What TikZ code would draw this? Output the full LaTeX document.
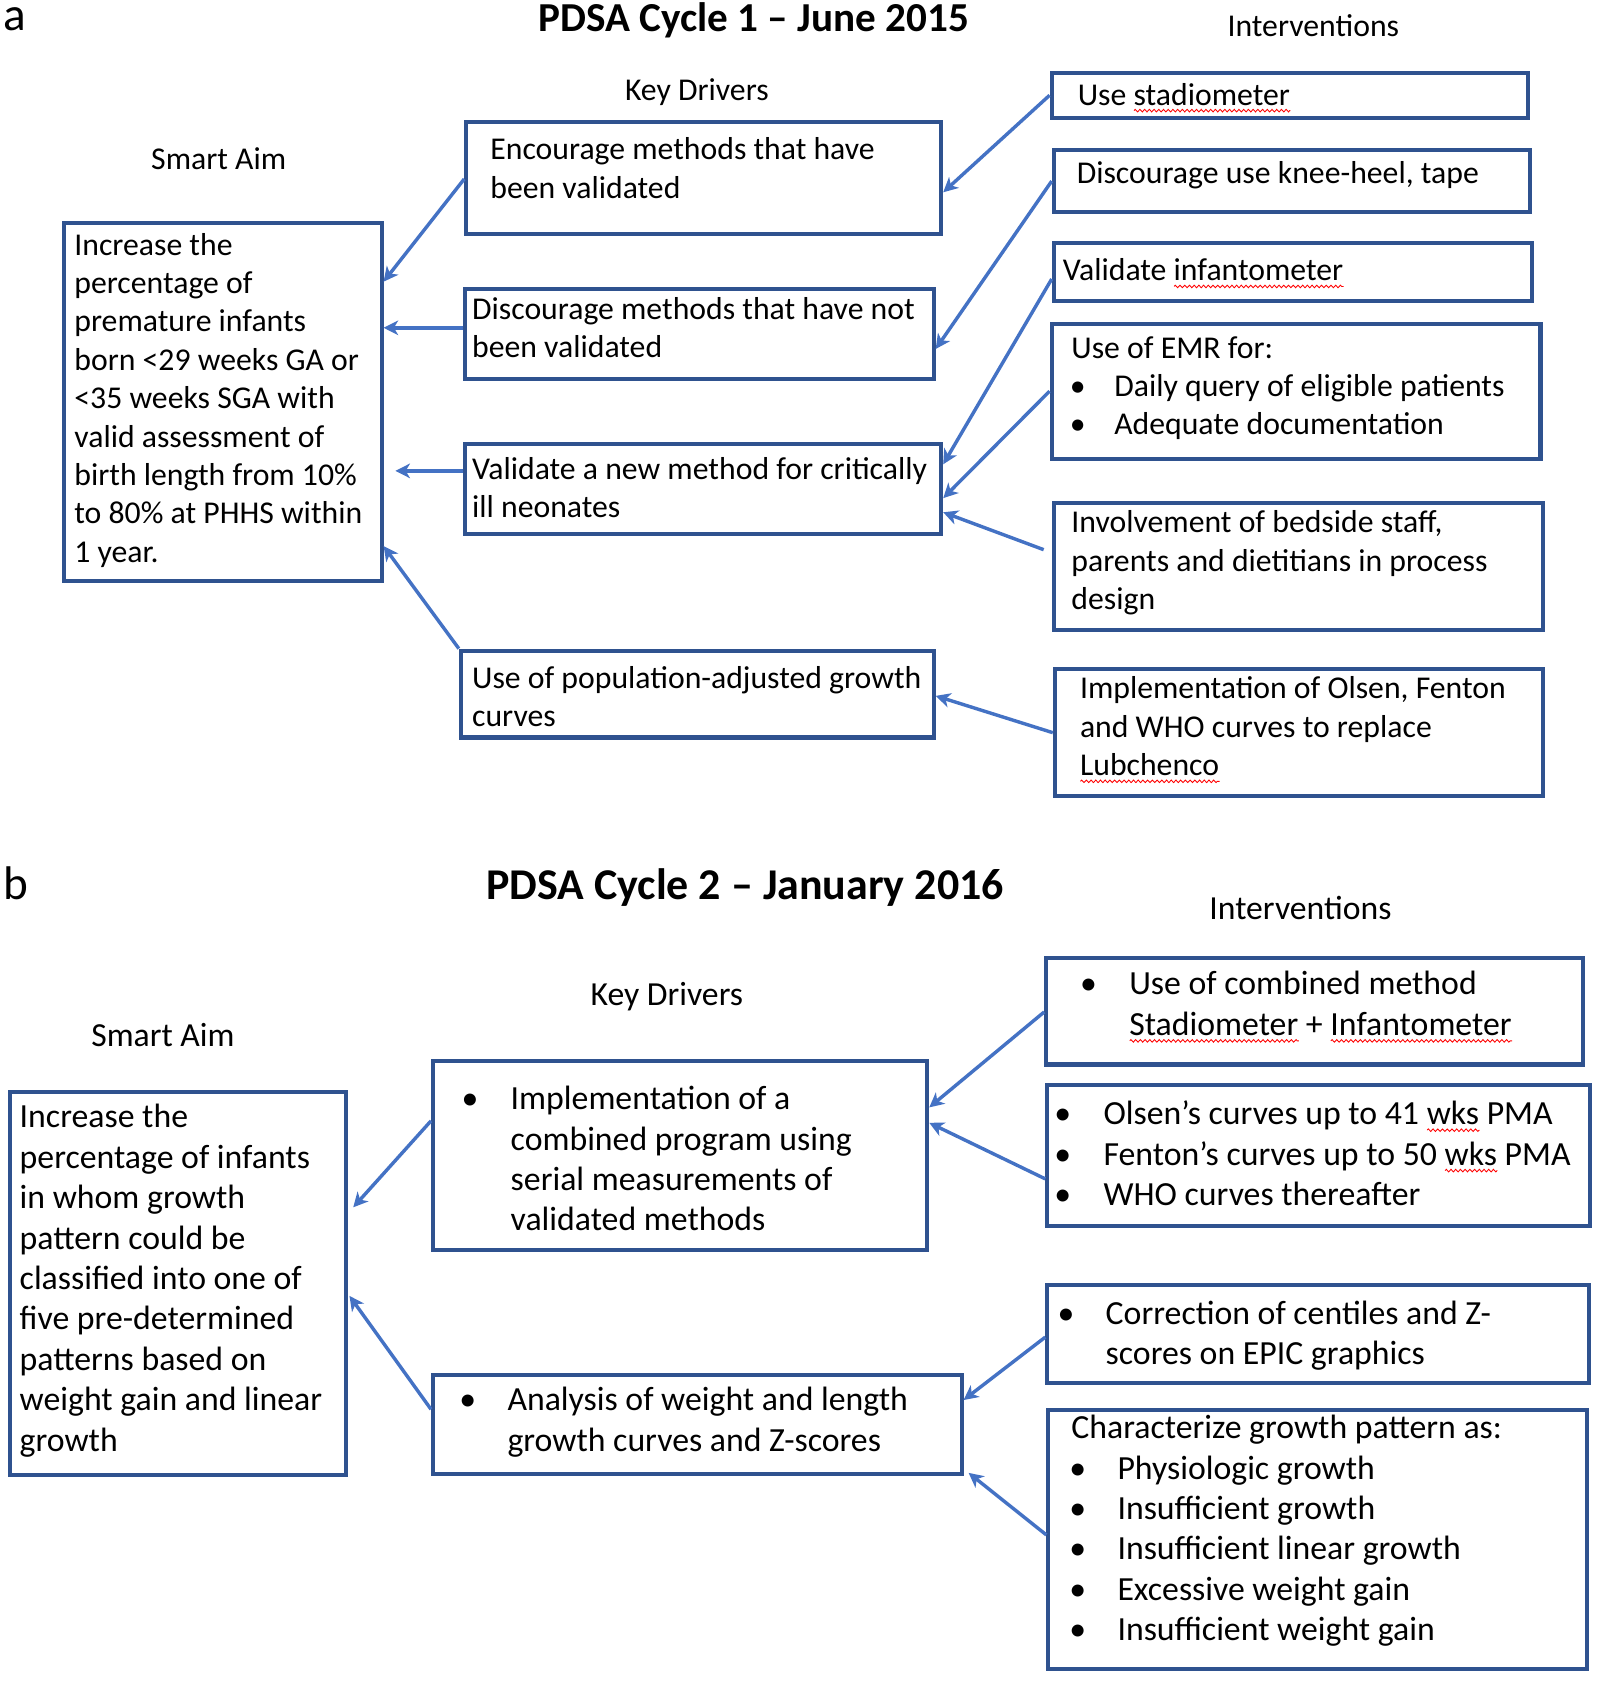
\documentclass[tikz,border=0pt]{standalone}
\usepackage{fontspec}
\setmainfont{Carlito}
\usetikzlibrary{arrows.meta,calc,decorations.pathmorphing}
\definecolor{boxblue}{HTML}{2F528F}
\definecolor{arrblue}{HTML}{4472C4}
\newsavebox\spellbox
\newcommand\spellerr[1]{\sbox\spellbox{#1}\rlap{\tikz[baseline=0pt]\draw[red,line width=0.4pt,decorate,decoration={zigzag,amplitude=0.6pt,segment length=2.2pt}] (0pt,-2.6pt) -- (\the\wd\spellbox,-2.6pt);}\usebox\spellbox}
\newcommand\mlines[1]{\vtop{\halign{##\hfil\cr#1\crcr}}}
\newcommand\bul[1]{\llap{\makebox[0pt]{\textbullet}\hskip#1}}
\newcommand\boxat[5]{\node[bx,minimum width={(#4-#2)*0.5pt},minimum height={(#5-#3)*0.5pt}] (#1) at (#2,#3) {};}
\tikzset{
  bx/.style={draw=boxblue, line width=1.9pt, rectangle, inner sep=0pt, anchor=north west},
  txt/.style={inner sep=0pt, anchor=base west},
  fa/.style={font=\fontsize{14.8pt}{17.9pt}\selectfont},
  fb/.style={font=\fontsize{15.75pt}{18.85pt}\selectfont},
  hda/.style={inner sep=0pt, anchor=base, font=\fontsize{14.8pt}{18pt}\selectfont},
  hdb/.style={inner sep=0pt, anchor=base, font=\fontsize{15.7pt}{19pt}\selectfont},
  ttla/.style={inner sep=0pt, anchor=base, font=\fontsize{19.2pt}{23pt}\selectfont\bfseries},
  ttlb/.style={inner sep=0pt, anchor=base, font=\fontsize{20.5pt}{24pt}\selectfont\bfseries},
  lbl/.style={inner sep=0pt, anchor=base west, text height=10.5pt, font=\fontsize{22pt}{26pt}\selectfont},
  arr/.style={draw=arrblue, line width=1.6pt, -{Stealth[length=6.8pt,width=6.8pt,inset=2pt]}},
}
\begin{document}
\begin{tikzpicture}[x=0.5pt,y=-0.5pt]
\useasboundingbox (0,0) rectangle (1492,1568);
% ---------------- panel a ----------------
\node[lbl] (la) at (3,28.5) {a};
\node[ttla] (ta) at (703,29.5) {PDSA Cycle 1 – June 2015};
\node[hda] (hia) at (1225,34) {Interventions};
\node[hda] (hka) at (650,94) {Key Drivers};
\node[hda] (hsa) at (204,158) {Smart Aim};

\boxat{aim}{58}{206}{354}{540}
\boxat{kd1}{433}{112}{876}{216}
\boxat{kd2}{432}{268}{869}{352}
\boxat{kd3}{432}{412}{876}{496}
\boxat{kd4}{428}{605}{869}{686}
\boxat{i1}{979}{66}{1423}{108}
\boxat{i2}{981}{138}{1425}{196}
\boxat{i3}{981}{225}{1427}{279}
\boxat{i4}{979}{300}{1435}{426}
\boxat{i5}{981}{467}{1437}{586}
\boxat{i6}{982}{622}{1437}{741}

\node[txt,fa] (aimt) at (69,238) {\mlines{Increase the\cr percentage of\cr premature infants\cr born <29 weeks GA or\cr <35 weeks SGA with\cr valid assessment of\cr birth length from 10\%\cr to 80\% at PHHS within\cr 1 year.}};
\node[txt,fa] (kd1t) at (457,149) {\mlines{Encourage methods that have\cr been validated}};
\node[txt,fa] (kd2t) at (440,298) {\mlines{Discourage methods that have not\cr been validated}};
\node[txt,fa] (kd3t) at (440,447) {\mlines{Validate a new method for critically\cr ill neonates}};
\node[txt,fa] (kd4t) at (440,642) {\mlines{Use of population-adjusted growth\cr curves}};
\node[txt,fa] (i1t) at (1005,98) {Use \spellerr{stadiometer}};
\node[txt,fa] (i2t) at (1004,171) {Discourage use knee-heel, tape};
\node[txt,fa] (i3t) at (991,262) {Validate \spellerr{infantometer}};
\node[txt,fa] (i4t) at (999,334) {\mlines{Use of EMR for:\cr \hskip20pt\bul{17pt}Daily query of eligible patients\cr \hskip20pt\bul{17pt}Adequate documentation}};
\node[txt,fa] (i5t) at (999,497) {\mlines{Involvement of bedside staff,\cr parents and dietitians in process\cr design}};
\node[txt,fa] (i6t) at (1007,652) {\mlines{Implementation of Olsen, Fenton\cr and WHO curves to replace\cr \spellerr{Lubchenco}}};

\draw[arr] ($(kd1.north west)!0.51!(kd1.south west)$) -- ($(aim.north east)!0.168!(aim.south east)$);
\draw[arr] ($(kd2.north west)!0.43!(kd2.south west)$) coordinate (s2) -- (aim.east |- s2);
\draw[arr, shorten >=5.5pt] ($(kd3.north west)!0.31!(kd3.south west)$) coordinate (s3) -- (aim.east |- s3);
\draw[arr] (kd4.north west) -- ($(aim.north east)!0.898!(aim.south east)$);
\draw[arr] (i1.west) -- ($(kd1.north east)!0.625!(kd1.south east)$);
\draw[arr] (i2.west) -- ($(kd2.north east)!0.655!(kd2.south east)$);
\draw[arr] ($(i3.north west)!0.61!(i3.south west)$) -- ($(kd3.north east)!0.24!(kd3.south east)$);
\draw[arr] (i4.west) -- ($(kd3.north east)!0.6!(kd3.south east)$);
\draw[arr, shorten <=4pt] ($(i5.north west)!0.395!(i5.south west)$) -- ($(kd3.north east)!0.75!(kd3.south east)$);
\draw[arr] (i6.west) -- ($(kd4.north east)!0.52!(kd4.south east)$);

% ---------------- panel b ----------------
\node[lbl] (lb) at (3,839) {b};
\node[ttlb] (tb) at (695,839) {PDSA Cycle 2 – January 2016};
\node[hdb] (hib) at (1213,858) {Interventions};
\node[hdb] (hkb) at (622,938) {Key Drivers};
\node[hdb] (hsb) at (152,976) {Smart Aim};

\boxat{baim}{7}{1017}{321}{1374}
\boxat{bkd1}{402}{988}{863}{1164}
\boxat{bkd2}{402}{1281}{895}{1373}
\boxat{bi1}{974}{892}{1475}{991}
\boxat{bi2}{975}{1010}{1481}{1142}
\boxat{bi3}{975}{1197}{1480}{1288}
\boxat{bi4}{976}{1313}{1478}{1555}

\node[txt,fb] (baimt) at (18,1052) {\mlines{Increase the\cr percentage of infants\cr in whom growth\cr pattern could be\cr classified into one of\cr five pre-determined\cr patterns based on\cr weight gain and linear\cr growth}};
\node[txt,fb] (bkd1t) at (476,1035) {\mlines{\bul{19pt}Implementation of a\cr combined program using\cr serial measurements of\cr validated methods}};
\node[txt,fb] (bkd2t) at (473,1316) {\mlines{\bul{18.5pt}Analysis of weight and length\cr growth curves and Z-scores}};
\node[txt,fb] (bi1t) at (1053,928) {\mlines{\bul{19pt}Use of combined method\cr \spellerr{Stadiometer} + \spellerr{Infantometer}}};
\node[txt,fb] (bi2t) at (1029,1049) {\mlines{\bul{19pt}Olsen’s curves up to 41 \spellerr{wks} PMA\cr \bul{19pt}Fenton’s curves up to 50 \spellerr{wks} PMA\cr \bul{19pt}WHO curves thereafter}};
\node[txt,fb] (bi3t) at (1031,1235) {\mlines{\bul{18.5pt}Correction of centiles and Z-\cr scores on EPIC graphics}};
\node[txt,fb] (bi4t) at (999,1342) {\mlines{Characterize growth pattern as:\cr \hskip21.5pt\bul{18.5pt}Physiologic growth\cr \hskip21.5pt\bul{18.5pt}Insufficient growth\cr \hskip21.5pt\bul{18.5pt}Insufficient linear growth\cr \hskip21.5pt\bul{18.5pt}Excessive weight gain\cr \hskip21.5pt\bul{18.5pt}Insufficient weight gain}};

\draw[arr, shorten >=3.5pt] ($(bkd1.north west)!0.32!(bkd1.south west)$) -- ($(baim.north east)!0.317!(baim.south east)$);
\draw[arr, shorten >=1pt] ($(bkd2.north west)!0.35!(bkd2.south west)$) -- ($(baim.north east)!0.527!(baim.south east)$);
\draw[arr] ($(bi1.north west)!0.505!(bi1.south west)$) -- ($(bkd1.north east)!0.25!(bkd1.south east)$);
\draw[arr] ($(bi2.north west)!0.66!(bi2.south west)$) -- ($(bkd1.north east)!0.33!(bkd1.south east)$);
\draw[arr] ($(bi3.north west)!0.53!(bi3.south west)$) -- ($(bkd2.north east)!0.26!(bkd2.south east)$);
\draw[arr, shorten >=3pt] ($(bi4.north west)!0.483!(bi4.south west)$) -- ($(bkd2.north east)!0.93!(bkd2.south east)$);
\end{tikzpicture}
\end{document}
